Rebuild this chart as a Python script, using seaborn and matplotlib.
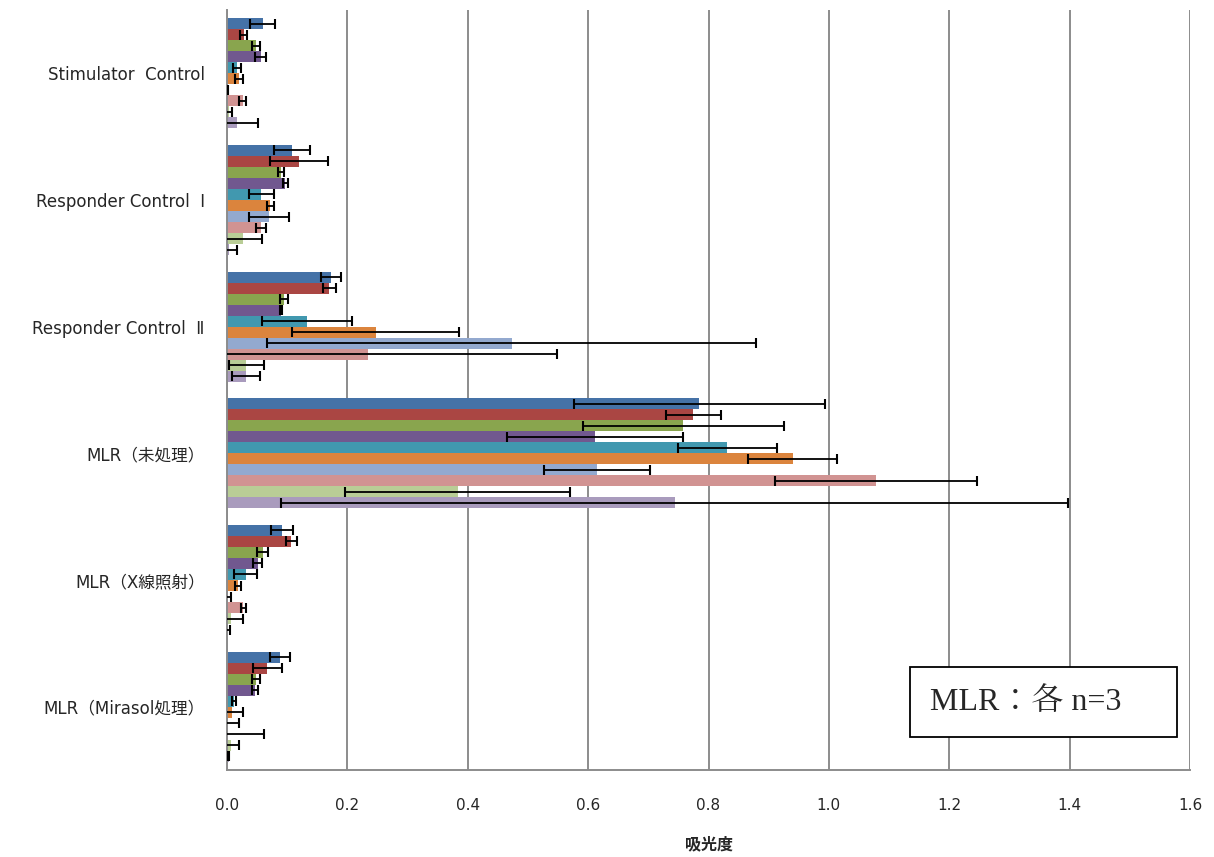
import matplotlib
matplotlib.use("Agg")
import matplotlib.pyplot as plt
from matplotlib.patches import Rectangle
import numpy as np
import pandas as pd
import seaborn as sns

categories = ["Stimulator  Control", "Responder Control  \u2160", "Responder Control  \u2161",
              "MLR\uff08未処理\uff09", "MLR\uff08X線照射\uff09", "MLR\uff08Mirasol処理\uff09"]
series = ["1", "2", "3", "4", "5", "6", "7", "8", "9", "10"]

stim_mean = [0.059, 0.028, 0.048, 0.056, 0.017, 0.020, 0.001, 0.026, 0.004, 0.017]
stim_err = [0.020, 0.006, 0.006, 0.009, 0.007, 0.007, 0.001, 0.006, 0.005, 0.035]
resp1_mean = [0.108, 0.119, 0.090, 0.097, 0.057, 0.072, 0.070, 0.057, 0.026, 0.004]
resp1_err = [0.030, 0.048, 0.005, 0.004, 0.021, 0.006, 0.033, 0.008, 0.032, 0.012]
resp2_mean = [0.173, 0.170, 0.095, 0.090, 0.133, 0.247, 0.473, 0.234, 0.032, 0.032]
resp2_err = [0.016, 0.011, 0.007, 0.002, 0.075, 0.139, 0.406, 0.314, 0.029, 0.023]
mlr_mean = [0.785, 0.775, 0.758, 0.612, 0.831, 0.940, 0.615, 1.078, 0.383, 0.744]
mlr_err = [0.209, 0.045, 0.167, 0.146, 0.082, 0.074, 0.088, 0.168, 0.187, 0.654]
xray_mean = [0.091, 0.107, 0.059, 0.051, 0.031, 0.018, 0.001, 0.027, 0.006, 0.001]
xray_err = [0.018, 0.009, 0.009, 0.007, 0.019, 0.005, 0.006, 0.004, 0.021, 0.004]
mira_mean = [0.088, 0.067, 0.048, 0.046, 0.012, 0.009, 0.001, 0.002, 0.007, 0.003]
mira_err = [0.016, 0.024, 0.007, 0.005, 0.003, 0.018, 0.019, 0.059, 0.013, 0.001]

xticks = [0.0, 0.2, 0.4, 0.6, 0.8, 1.0, 1.2, 1.4, 1.6]
colors = ["#4572A7", "#AA4643", "#89A54E", "#71588F", "#4198AF",
          "#DB843D", "#93A9CF", "#D19392", "#B9CD96", "#A99BBD"]

means = [stim_mean, resp1_mean, resp2_mean, mlr_mean, xray_mean, mira_mean]
errs = [stim_err, resp1_err, resp2_err, mlr_err, xray_err, mira_err]
rows = []
for c, m, e in zip(categories, means, errs):
    for s, mv, ev in zip(series, m, e):
        rows.append({"category": c, "series": s, "value": mv, "err": ev})
df = pd.DataFrame(rows)

sns.set_theme(style="white")
plt.rcParams["font.family"] = ["DejaVu Sans", "Noto Sans CJK JP"]

fig = plt.figure(figsize=(12.14, 8.57), dpi=100)
ax = fig.add_axes([227 / 1214, 1 - 770 / 857, (1190 - 227) / 1214, 760 / 857])

sns.barplot(data=df, y="category", x="value", hue="series", order=categories,
            hue_order=series, palette=colors, orient="h", width=0.87,
            errorbar=None, legend=False, ax=ax, linewidth=0, saturation=1)

for cont, s in zip(ax.containers, series):
    sub = df[df["series"] == s].set_index("category").loc[categories]
    ys = [b.get_y() + b.get_height() / 2 for b in cont]
    xs = [b.get_width() for b in cont]
    ax.errorbar(xs, ys, xerr=sub["err"].values, fmt="none", ecolor="black",
                elinewidth=1.3, capsize=3.5, capthick=1.5, zorder=5)

ax.set_xlim(0, 1.6)
ax.set_ylim(5.5, -0.5)
ax.set_xticks(xticks)
ax.set_xticklabels([f"{t:.1f}" for t in xticks], fontsize=11)
ax.xaxis.grid(True, color="#8c8c8c", linewidth=1.4)
ax.yaxis.grid(False)
ax.set_axisbelow(True)
for sp in ["top", "right"]:
    ax.spines[sp].set_visible(False)
for sp in ["left", "bottom"]:
    ax.spines[sp].set_color("#8c8c8c")
    ax.spines[sp].set_linewidth(1.4)
ax.tick_params(axis="x", direction="out", length=4, color="#8c8c8c", pad=16)
ax.tick_params(axis="y", which="major", length=0, pad=16, labelsize=12)
ax.set_yticks(np.arange(-0.5, 6.0, 1.0), minor=True)
ax.tick_params(axis="y", which="minor", direction="out", length=6, color="#8c8c8c", width=1.2)
ax.set_ylabel("")
ax.set_xlabel("吸光度", fontsize=11.5, fontweight="bold", labelpad=17,
              family=["Noto Sans CJK JP"])

fig.patches.append(Rectangle((910 / 1214, 1 - 737 / 857), 267 / 1214, 70 / 857,
                             transform=fig.transFigure, facecolor="white",
                             edgecolor="black", linewidth=1.3, zorder=10))
fig.text(930 / 1214, 1 - 702 / 857, "MLR：各 n=3", fontsize=23,
         family=["Liberation Serif", "Noto Serif CJK JP", "Noto Sans CJK JP"],
         va="center", ha="left", zorder=11)

fig.savefig("out.png", dpi=100)
